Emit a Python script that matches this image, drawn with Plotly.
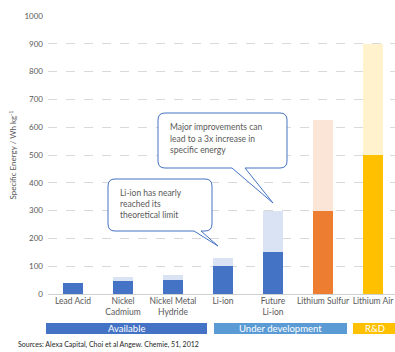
import plotly.graph_objects as go

# ---- data ----
categories = ["Lead Acid", "Nickel<br>Cadmium", "Nickel Metal<br>Hydride", "Li-ion",
              "Future<br>Li-ion", "Lithium Sulfur", "Lithium Air"]
current_energy = [40, 45, 50, 100, 150, 300, 500]
potential_energy = [None, 60, 70, 130, 300, 625, 900]
dark_colors = ["#4472C4"] * 5 + ["#ED7D31", "#FFC000"]
light_colors = ["#DAE3F3"] * 5 + ["#FBE5D6", "#FFF2CC"]
y_ticks = [0, 100, 200, 300, 400, 500, 600, 700, 800, 900, 1000]

W, H = 395, 352
ML, MR, MT, MB = 48, 0, 16, 58
PW, PH = W - ML - MR, H - MT - MB
FONT = "Lato"


def px(x):
    return (x - ML) / PW


def py(y):
    return (H - MB - y) / PH


xs = list(range(len(categories)))
extra = [None if p is None else p - c for p, c in zip(potential_energy, current_energy)]

fig = go.Figure()
fig.add_trace(go.Bar(x=xs, y=current_energy, marker_color=dark_colors, width=0.4,
                     marker_line_width=0, showlegend=False))
fig.add_trace(go.Bar(x=xs, y=extra, marker_color=light_colors, width=0.4,
                     marker_line_width=0, showlegend=False))

fig.update_layout(
    width=W, height=H, barmode="stack",
    margin=dict(l=ML, r=MR, t=MT, b=MB, autoexpand=False),
    plot_bgcolor="white", paper_bgcolor="white",
    font=dict(family=FONT, size=8, color="#595959"),
    xaxis=dict(range=[-0.5, -0.5 + PW / 50], tickmode="array", tickvals=xs,
               ticktext=categories, showgrid=False, showline=False, zeroline=False,
               tickfont=dict(size=8.5, color="#595959"), fixedrange=True, automargin=False),
    yaxis=dict(range=[0, 1000], tickmode="array", tickvals=y_ticks, automargin=False,
               showgrid=True, gridcolor="#D9D9D9", griddash="dash", gridwidth=1,
               zeroline=True, zerolinecolor="#D0D0D0", zerolinewidth=1,
               tickfont=dict(size=8, color="#595959"), ticklabelstandoff=4,
               title=dict(text="Specific Energy / Wh kg<sup>-1</sup>", standoff=6,
                          font=dict(size=8, color="#595959"))),
)


def rounded_box(x0, y0, x1, y1, r, b0, b1, tx, ty):
    # pixel coords; pointer base on bottom edge b0..b1 to tip (tx,ty)
    path = f"M {px(x0 + r)},{py(y0)} L {px(x1 - r)},{py(y0)} "
    path += f"Q {px(x1)},{py(y0)} {px(x1)},{py(y0 + r)} "
    path += f"L {px(x1)},{py(y1 - r)} Q {px(x1)},{py(y1)} {px(x1 - r)},{py(y1)} "
    path += f"L {px(b1)},{py(y1)} L {px(tx)},{py(ty)} L {px(b0)},{py(y1)} "
    path += f"L {px(x0 + r)},{py(y1)} Q {px(x0)},{py(y1)} {px(x0)},{py(y1 - r)} "
    path += f"L {px(x0)},{py(y0 + r)} Q {px(x0)},{py(y0)} {px(x0 + r)},{py(y0)} Z"
    return dict(type="path", path=path, xref="paper", yref="paper",
                line=dict(color="#4472C4", width=1), fillcolor="white", layer="above")


shapes = [
    rounded_box(108, 179, 212, 231, 7, 194, 201, 218, 246),
    rounded_box(158, 113, 287, 168, 7, 232, 245, 273, 203),
]

bands = [("Available", 46, 207, "#4472C4"),
         ("Under development", 214, 347, "#5B9BD5"),
         ("R&D", 353, 396, "#FFC000")]
annotations = []
for label, x0, x1, col in bands:
    shapes.append(dict(type="rect", xref="paper", yref="paper", x0=px(x0), x1=px(x1),
                       y0=py(334), y1=py(323), fillcolor=col, line=dict(width=0)))
    annotations.append(dict(text=label, xref="paper", yref="paper", x=px((x0 + x1) / 2),
                            y=py(328.5), showarrow=False, xanchor="center", yanchor="middle",
                            font=dict(family=FONT, size=9.5, color="white")))

call1 = ["Li-ion has nearly", "reached its", "theoretical limit"]
for i, t in enumerate(call1):
    annotations.append(dict(text=t, xref="paper", yref="paper", x=px(118), y=py(193 + 11 * i),
                            showarrow=False, xanchor="left", yanchor="middle", align="left",
                            font=dict(family=FONT, size=8.5, color="#595959")))
call2 = ["Major improvements can", "lead to a 3x increase in", "specific energy"]
for i, t in enumerate(call2):
    annotations.append(dict(text=t, xref="paper", yref="paper", x=px(168), y=py(127 + 11.5 * i),
                            showarrow=False, xanchor="left", yanchor="middle", align="left",
                            font=dict(family=FONT, size=8.5, color="#595959")))

annotations.append(dict(text="Sources: Alexa Capital, Choi et al Angew. Chemie, 51, 2012",
                        xref="paper", yref="paper", x=px(16), y=py(344), showarrow=False,
                        xanchor="left", yanchor="middle", align="left",
                        font=dict(family=FONT, size=7, color="#262626")))

fig.update_layout(shapes=shapes, annotations=annotations)
fig.write_html("out.html")
